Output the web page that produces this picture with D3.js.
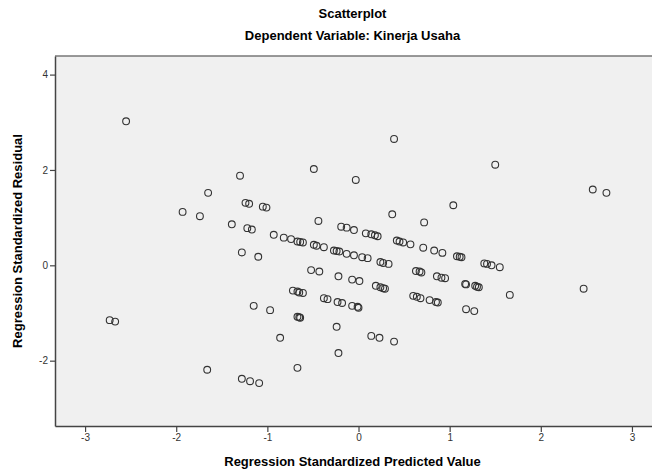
<!DOCTYPE html>
<html>
<head>
<meta charset="utf-8">
<script src="https://cdn.jsdelivr.net/npm/d3@7"></script>
<style>
  body { margin: 0; background: #fff; }
  text { font-family: "Liberation Sans", Arial, sans-serif; }
</style>
</head>
<body>
<script>
const W = 652;
const H = 472;

// predicted (x) and residual (y)
const predicted = [
  -2.55, -1.30, -1.65, -1.24, -1.20, -1.05, -1.01, -1.93, -1.74, -1.39,
  -1.22, -1.17, -1.28, -1.10, 0.39, -0.49, -0.03, 0.37, 0.72, -0.44,
  -0.93, -0.82, -0.74, -0.67, -0.64, -0.61, -0.19, -0.13, -0.05, 0.08,
  0.14, 0.18, 0.21, 0.42, 0.45, 0.49, 0.57, 0.71, 0.83, 0.92,
  -0.49, -0.46, -0.38, -0.27, -0.24, -0.21, -0.13, -0.05, 0.04, 0.10,
  0.24, 0.27, 0.33, 0.63, 0.67, 0.69, 0.86, -0.52, -0.43, -0.22,
  -0.07, 0.01, 1.50, 2.57, 2.72, 1.04, 1.08, 1.11, 1.13, 1.38,
  1.41, 1.46, 1.55, 0.91, 0.95, -2.73, -2.67, -1.15, -1.66, -1.28,
  -1.19, -1.09, 0.19, 0.24, 0.27, 0.29, -0.72, -0.67, -0.65, -0.61,
  -0.38, -0.34, -0.23, -0.18, -0.07, -0.01, 0.00, 0.60, 0.64, 0.68,
  0.78, 0.85, 0.87, -0.97, -0.67, -0.65, -0.64, -0.24, 0.14, 0.23,
  0.39, -0.86, -0.22, -0.67, 1.17, 1.18, 1.28, 1.30, 1.32, 1.66,
  2.47, 1.18, 1.27
];
const residual = [
  3.02, 1.88, 1.52, 1.31, 1.29, 1.23, 1.21, 1.12, 1.03, 0.86,
  0.78, 0.75, 0.27, 0.18, 2.65, 2.02, 1.79, 1.07, 0.90, 0.93,
  0.64, 0.58, 0.55, 0.50, 0.49, 0.48, 0.81, 0.79, 0.74, 0.67,
  0.65, 0.63, 0.61, 0.52, 0.50, 0.48, 0.44, 0.37, 0.31, 0.26,
  0.43, 0.41, 0.38, 0.31, 0.30, 0.29, 0.24, 0.21, 0.17, 0.15,
  0.07, 0.05, 0.03, -0.12, -0.13, -0.15, -0.23, -0.10, -0.13, -0.23,
  -0.30, -0.33, 2.11, 1.59, 1.52, 1.26, 0.19, 0.18, 0.17, 0.04,
  0.03, 0.00, -0.04, -0.26, -0.27, -1.15, -1.18, -0.85, -2.19, -2.38,
  -2.43, -2.47, -0.43, -0.46, -0.48, -0.49, -0.53, -0.55, -0.57, -0.58,
  -0.69, -0.71, -0.77, -0.79, -0.85, -0.87, -0.89, -0.64, -0.66, -0.69,
  -0.73, -0.77, -0.78, -0.94, -1.08, -1.09, -1.10, -1.29, -1.48, -1.52,
  -1.60, -1.52, -1.84, -2.15, -0.39, -0.40, -0.43, -0.45, -0.46, -0.62,
  -0.49, -0.92, -0.96
];

const xTicks = [-3, -2, -1, 0, 1, 2, 3];
const yTicks = [-2, 0, 2, 4];

const title = "Scatterplot";
const subtitle = "Dependent Variable: Kinerja Usaha";
const xLabel = "Regression Standardized Predicted Value";
const yLabel = "Regression Standardized Residual";

const plot = {left: 55, top: 56, right: 652, bottom: 426};

const x = d3.scaleLinear().domain([-3.33, 3.22]).range([plot.left, plot.right]);
const y = d3.scaleLinear().domain([-3.37, 4.39]).range([plot.bottom, plot.top]);

const svg = d3.select("body").append("svg")
    .attr("width", W)
    .attr("height", H);

svg.append("rect")
    .attr("x", plot.left)
    .attr("y", plot.top)
    .attr("width", plot.right - plot.left)
    .attr("height", plot.bottom - plot.top)
    .attr("fill", "#f0f0f0");

// top edge of the frame
svg.append("line")
    .attr("x1", plot.left).attr("x2", plot.right)
    .attr("y1", plot.top).attr("y2", plot.top)
    .attr("stroke", "#777").attr("stroke-width", 1.5);

const xAxis = svg.append("g")
    .attr("transform", `translate(0,${plot.bottom})`)
    .call(d3.axisBottom(x).tickValues(xTicks).tickSize(6).tickSizeOuter(0)
      .tickPadding(2).tickFormat(d => String(d)));

const yAxis = svg.append("g")
    .attr("transform", `translate(${plot.left},0)`)
    .call(d3.axisLeft(y).tickValues(yTicks).tickSize(5).tickSizeOuter(0)
      .tickPadding(2).tickFormat(d => String(d)));

[xAxis, yAxis].forEach(g => {
  g.select(".domain").attr("stroke", "#444").attr("stroke-width", 1.5);
  g.selectAll(".tick line").attr("stroke", "#444").attr("stroke-width", 1.2);
  g.selectAll(".tick text")
      .attr("fill", "#333")
      .style("font-size", "10px")
      .style("font-family", "Liberation Sans, Arial, sans-serif");
});

svg.append("g")
  .selectAll("circle")
  .data(d3.range(predicted.length)).enter()
  .append("circle")
    .attr("cx", i => x(predicted[i]))
    .attr("cy", i => y(residual[i]))
    .attr("r", 3.4)
    .attr("fill", "none")
    .attr("stroke", "#333")
    .attr("stroke-width", 1.1);

const mid = (plot.left + plot.right) / 2;

svg.append("text")
    .attr("x", mid - 1).attr("y", 18)
    .attr("text-anchor", "middle")
    .style("font-size", "13px").style("font-weight", "bold")
    .text(title);

svg.append("text")
    .attr("x", mid - 1).attr("y", 40)
    .attr("text-anchor", "middle")
    .style("font-size", "13px").style("font-weight", "bold")
    .text(subtitle);

svg.append("text")
    .attr("x", mid - 1).attr("y", 466)
    .attr("text-anchor", "middle")
    .style("font-size", "13px").style("font-weight", "bold")
    .text(xLabel);

svg.append("text")
    .attr("transform", `translate(22,${(plot.top + plot.bottom) / 2}) rotate(-90)`)
    .attr("text-anchor", "middle")
    .style("font-size", "13px").style("font-weight", "bold")
    .text(yLabel);
</script>
</body>
</html>
